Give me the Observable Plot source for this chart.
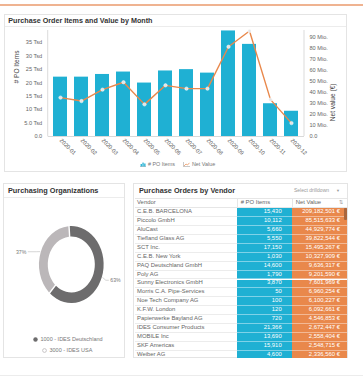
<!DOCTYPE html>
<html><head><meta charset="utf-8">
<script src="https://cdn.jsdelivr.net/npm/d3@7"></script>
<script src="https://cdn.jsdelivr.net/npm/@observablehq/plot@0.6"></script>
<style>
html,body{margin:0;padding:0;background:#fff;}
body{font-family:"Liberation Sans",Arial,sans-serif;color:#555;}
#root{position:relative;width:363px;height:377px;overflow:hidden;background:#fff;}
.abs{position:absolute;}
.panel{position:absolute;border:1px solid #e4e4e4;box-sizing:border-box;background:#fff;}
.title{position:absolute;font-weight:bold;font-size:7px;color:#333;white-space:nowrap;line-height:1;}
.hline{position:absolute;height:0;border-top:1px solid #ececec;}
.legend{position:absolute;display:flex;align-items:center;font-size:5.2px;color:#777;white-space:nowrap;line-height:1;}
.row{position:absolute;left:0;width:212px;display:flex;font-size:5.9px;line-height:1;}
.cell{box-sizing:border-box;display:flex;align-items:center;white-space:nowrap;overflow:hidden;}
</style></head>
<body><div id="root"></div>
<script>
// ---------- data ----------
const months = ["2020-01","2020-02","2020-03","2020-04","2020-05","2020-06","2020-07","2020-08","2020-09","2020-10","2020-11","2020-12"];
const poItemsTsd = [22.1,22.1,23.1,24.0,19.9,24.4,24.9,23.6,39.3,34.3,12.2,9.4];
const netValueMio = [35.1,32.0,42.3,49.0,29.0,46.2,43.2,43.2,81.0,95.2,33.3,12.1];
const leftTicks = [0,5,10,15,20,25,30,35];
const leftTickLabels = ["0.0","5.0 Tsd","10 Tsd","15 Tsd","20 Tsd","25 Tsd","30 Tsd","35 Tsd"];
const rightTicks = [0,10,20,30,40,50,60,70,80,90];
const rightTickLabels = ["0.0","10 Mio.","20 Mio.","30 Mio.","40 Mio.","50 Mio.","60 Mio.","70 Mio.","80 Mio.","90 Mio."];
const seriesNames = ["# PO Items","Net Value"];
const axisTitles = ["# PO Items","Net value (€)"];

const orgs = ["1000 - IDES Deutschland","3000 - IDES USA"];
const orgShares = [63,37];

const vendors = ["C.E.B. BARCELONA","Piccolo GmbH","AluCast","Tiefland Glass AG","SCT Inc.","C.E.B. New York","PAQ Deutschland GmbH","Poly AG","Sunny Electronics GmbH","Morris C.A. Pipe-Services","Noe Tech Company AG","K.F.W. London","Papierwerke Bayland AG","IDES Consumer Products","MOBILE Inc","SKF Americas","Weiber AG"];
const vendorItems = [15430,10112,5660,5550,17150,1030,14600,1790,3870,50,100,120,720,21366,13690,15910,4600];
const vendorNetValues = [209182501,85515633,44929774,39822544,15495267,10327909,9636317,9201590,7601969,6960254,6100227,6092661,4546853,2672447,2558404,2548715,2336560];
const tableHeaders = ["Vendor","# PO Items","Net Value"];

// ---------- styles ----------
const BLUE = "#1fb0d3", ORANGE = "#e9884b";
const root = document.getElementById("root");
function el(tag, cls, css, html) {
  const e = document.createElement(tag);
  if (cls) e.className = cls;
  if (css) e.style.cssText = css;
  if (html != null) e.innerHTML = html;
  return e;
}
root.appendChild(el("div","abs","left:0;top:4px;width:363px;height:1.5px;background:#efb391;"));
root.appendChild(el("div","abs","left:0;top:375px;width:363px;height:1px;background:#ececec;"));

// ---------- panel 1: bar + line ----------
root.appendChild(el("div","panel","left:4px;top:14px;width:343px;height:158px;"));
root.appendChild(el("div","title","left:8.3px;top:16.6px;font-size:7.2px;","Purchase Order Items and Value by Month"));
root.appendChild(el("div","hline","left:5px;top:26px;width:341px;"));

const k = (35 / 94) / (90 / 99.7); // Mio -> Tsd-axis units
const rows = months.map((m, i) => ({month: m, items: poItemsTsd[i], value: netValueMio[i] * k}));
const rLab = new Map(rightTicks.map((t, i) => [t, rightTickLabels[i]]));
const lLab = new Map(leftTicks.map((t, i) => [t, leftTickLabels[i]]));

function axisLines(index, scales, values, dims) {
  const g = d3.create("svg:g").attr("stroke", "#d2d2d2").attr("stroke-width", 0.8);
  const x0 = dims.marginLeft, x1 = dims.width - dims.marginRight;
  const yt = dims.marginTop, yb = dims.height - dims.marginBottom;
  g.append("line").attr("x1", x0).attr("x2", x0).attr("y1", yt).attr("y2", yb);
  g.append("line").attr("x1", x1).attr("x2", x1).attr("y1", yt).attr("y2", yb);
  return g.node();
}

const chart = Plot.plot({
  width: 343, height: 132,
  marginTop: 3, marginBottom: 23, marginLeft: 43.7, marginRight: 43,
  style: {fontFamily: "'Liberation Sans', Arial, sans-serif", fontSize: "5.6px", color: "#666", background: "transparent", overflow: "visible"},
  x: {type: "band", domain: months, paddingInner: 0.32, paddingOuter: 0.13},
  y: {domain: [0, 35 * 106 / 94]},
  marks: [
    Plot.barY(rows, {x: "month", y: "items", fill: BLUE}),
    Plot.ruleY([0], {stroke: "#cfcfcf", strokeWidth: 0.8}),
    axisLines,
    Plot.line(rows, {x: "month", y: "value", stroke: ORANGE, strokeWidth: 1.4}),
    Plot.dot(rows, {x: "month", y: "value", r: 1.7, fill: "#e4e4e4", stroke: "#fff", strokeWidth: 0.5}),
    Plot.axisY({ticks: leftTicks, tickFormat: d => lLab.get(d), tickSize: 0, tickPadding: 6, label: null}),
    Plot.axisY({anchor: "right", ticks: rightTicks.map(t => t * k), tickFormat: d => rLab.get(Math.round(d / k)),
      tickSize: 0, tickPadding: 5, label: null}),
    Plot.axisX({tickRotate: 45, tickSize: 0, tickPadding: 3, textAnchor: "start", label: null}),
    Plot.text([axisTitles[0]], {text: d => d, frameAnchor: "left", rotate: -90, dx: -31, dy: 0, fontSize: 6.6, fill: "#444"}),
    Plot.text([axisTitles[1]], {text: d => d, frameAnchor: "right", rotate: -90, dx: 28, dy: 0, fontSize: 6.6, fill: "#444"})
  ]
});
chart.style.position = "absolute"; chart.style.left = "4px"; chart.style.top = "27px";
root.appendChild(chart);

const lg = el("div","legend","left:140px;top:161.5px;font-size:5.4px;");
lg.innerHTML = `<svg width="6" height="5" style="margin-right:2px"><line x1="0" y1="4.6" x2="6" y2="4.6" stroke="#999" stroke-width="0.6"/><rect x="0.6" y="2" width="1.3" height="2.5" fill="${BLUE}"/><rect x="2.4" y="0.6" width="1.3" height="3.9" fill="${BLUE}"/><rect x="4.2" y="1.5" width="1.3" height="3" fill="${BLUE}"/></svg><span>${seriesNames[0]}</span>
<svg width="7" height="5" style="margin-left:8px;margin-right:2px"><polyline points="0.4,0 0.4,4.6 7,4.6" fill="none" stroke="#999" stroke-width="0.6"/><polyline points="1,4 3,2 4.5,3 6.5,0.8" fill="none" stroke="${ORANGE}" stroke-width="0.7"/></svg><span>${seriesNames[1]}</span>`;
root.appendChild(lg);

// ---------- panel 2: donut ----------
root.appendChild(el("div","panel","left:3px;top:183px;width:122px;height:175px;"));
root.appendChild(el("div","title","left:8px;top:186.6px;font-size:7.3px;","Purchasing Organizations"));
root.appendChild(el("div","hline","left:4px;top:197px;width:120px;"));

const orgColor = Plot.scale({color: {type: "ordinal", domain: orgs, range: ["#6d6c6d", "#bbb7b9"]}});
const orgData = orgs.map((o, i) => ({org: o, share: orgShares[i]}));

function donut(index, scales, values, dims) {
  const cx = 68.3, cy = 66.5, R = 38.5, r0 = 28, sx = 0.84;
  const a0 = -0.07;
  const arcs = d3.pie().sort(null).value(d => d.share).startAngle(a0).endAngle(a0 + 2 * Math.PI).padAngle(0.035)(orgData);
  const root = d3.create("svg:g");
  const g = root.append("g").attr("transform", `translate(${cx},${cy}) scale(${sx},1)`);
  const arc = d3.arc().innerRadius(r0).outerRadius(R);
  g.selectAll("path").data(arcs).join("path").attr("d", arc).attr("fill", d => orgColor.apply(d.data.org));
  arcs.forEach(d => {
    const m = (d.startAngle + d.endAngle) / 2;
    const ux = Math.sin(m), uy = -Math.cos(m);
    const p1 = [cx + R * 1.02 * ux * sx, cy + R * 1.02 * uy];
    const p2 = [cx + R * 1.13 * ux * sx, cy + R * 1.13 * uy + 1.5];
    const right = ux > 0;
    const p3 = [p2[0] + (right ? 3 : -9), p2[1]];
    root.append("polyline").attr("points", [p1, p2, p3].map(p => p.join(",")).join(" "))
      .attr("fill", "none").attr("stroke", "#aaa").attr("stroke-width", 0.5);
    root.append("text").attr("x", p3[0] + (right ? 1.5 : -1.5)).attr("y", p3[1]).attr("dy", "0.35em")
      .attr("text-anchor", right ? "start" : "end").attr("fill", "#777").attr("font-size", 5.2)
      .text(`${d.data.share}%`);
  });
  return root.node();
}
const pie = Plot.plot({
  width: 122, height: 140, margin: 0,
  style: {fontFamily: "'Liberation Sans', Arial, sans-serif", background: "transparent", overflow: "visible"},
  marks: [donut]
});
pie.style.position = "absolute"; pie.style.left = "3px"; pie.style.top = "198px";
root.appendChild(pie);

const ol1 = el("div","legend","left:33px;top:336.5px;font-size:5.5px;");
ol1.innerHTML = `<svg width="5" height="5" style="margin-right:2.5px"><circle cx="2.5" cy="2.5" r="2.2" fill="${orgColor.apply(orgs[0])}"/></svg><span>${orgs[0]}</span>`;
root.appendChild(ol1);
const ol2 = el("div","legend","left:42px;top:348.2px;font-size:5.5px;");
ol2.innerHTML = `<svg width="5" height="5" style="margin-right:2.5px"><circle cx="2.5" cy="2.5" r="1.9" fill="none" stroke="${orgColor.apply(orgs[1])}" stroke-width="0.8"/></svg><span>${orgs[1]}</span>`;
root.appendChild(ol2);

// ---------- panel 3: table ----------
root.appendChild(el("div","panel","left:133px;top:183px;width:215px;height:175px;"));
root.appendChild(el("div","title","left:139px;top:186.6px;font-size:7.3px;","Purchase Orders by Vendor"));
root.appendChild(el("div","legend","left:294px;top:188px;font-size:5px;color:#999;","Select drilldown<span style='margin-left:7px;font-size:4px'>▼</span>"));

const tbl = el("div","abs","left:135px;top:197.5px;width:212px;height:160px;overflow:hidden;");
root.appendChild(tbl);
const W = [101.7, 55, 55.3];
const fmt = d3.format(",");
const hdr = el("div","row","top:0;height:10.8px;border-top:1px solid #e6e6e6;border-bottom:1px solid #e6e6e6;box-sizing:border-box;color:#666;");
tableHeaders.forEach((h, i) => {
  const c = el("div","cell",`width:${W[i]}px;padding-left:${i ? 3 : 2}px;${i ? "border-left:1px solid #e6e6e6;" : ""}`, h);
  if (i === 2) { c.style.justifyContent = "space-between"; c.style.paddingRight = "4px"; c.innerHTML = `<span>${h}</span><span style="color:#999;font-size:5px">⇅</span>`; }
  hdr.appendChild(c);
});
tbl.appendChild(hdr);
vendors.forEach((v, i) => {
  const r = el("div","row",`top:${10.8 + i * 8.9}px;height:8.9px;`);
  r.appendChild(el("div","cell",`width:${W[0]}px;padding-left:2px;color:#666;border-bottom:1px solid #ececec;`, v));
  r.appendChild(el("div","cell",`width:${W[1]}px;justify-content:flex-end;padding-right:10px;color:#fff;background:${BLUE};border-bottom:1px solid #7fd2e8;`, fmt(vendorItems[i])));
  r.appendChild(el("div","cell",`width:${W[2]}px;justify-content:flex-end;padding-right:7px;color:#fff;background:${ORANGE};border-bottom:1px solid #f3b995;`, fmt(vendorNetValues[i]) + " €"));
  tbl.appendChild(r);
});
tbl.appendChild(el("div","abs",`left:209.3px;top:10.8px;width:2.6px;height:12px;background:#a9663d;border-radius:1px;`));
</script>
</body></html>
